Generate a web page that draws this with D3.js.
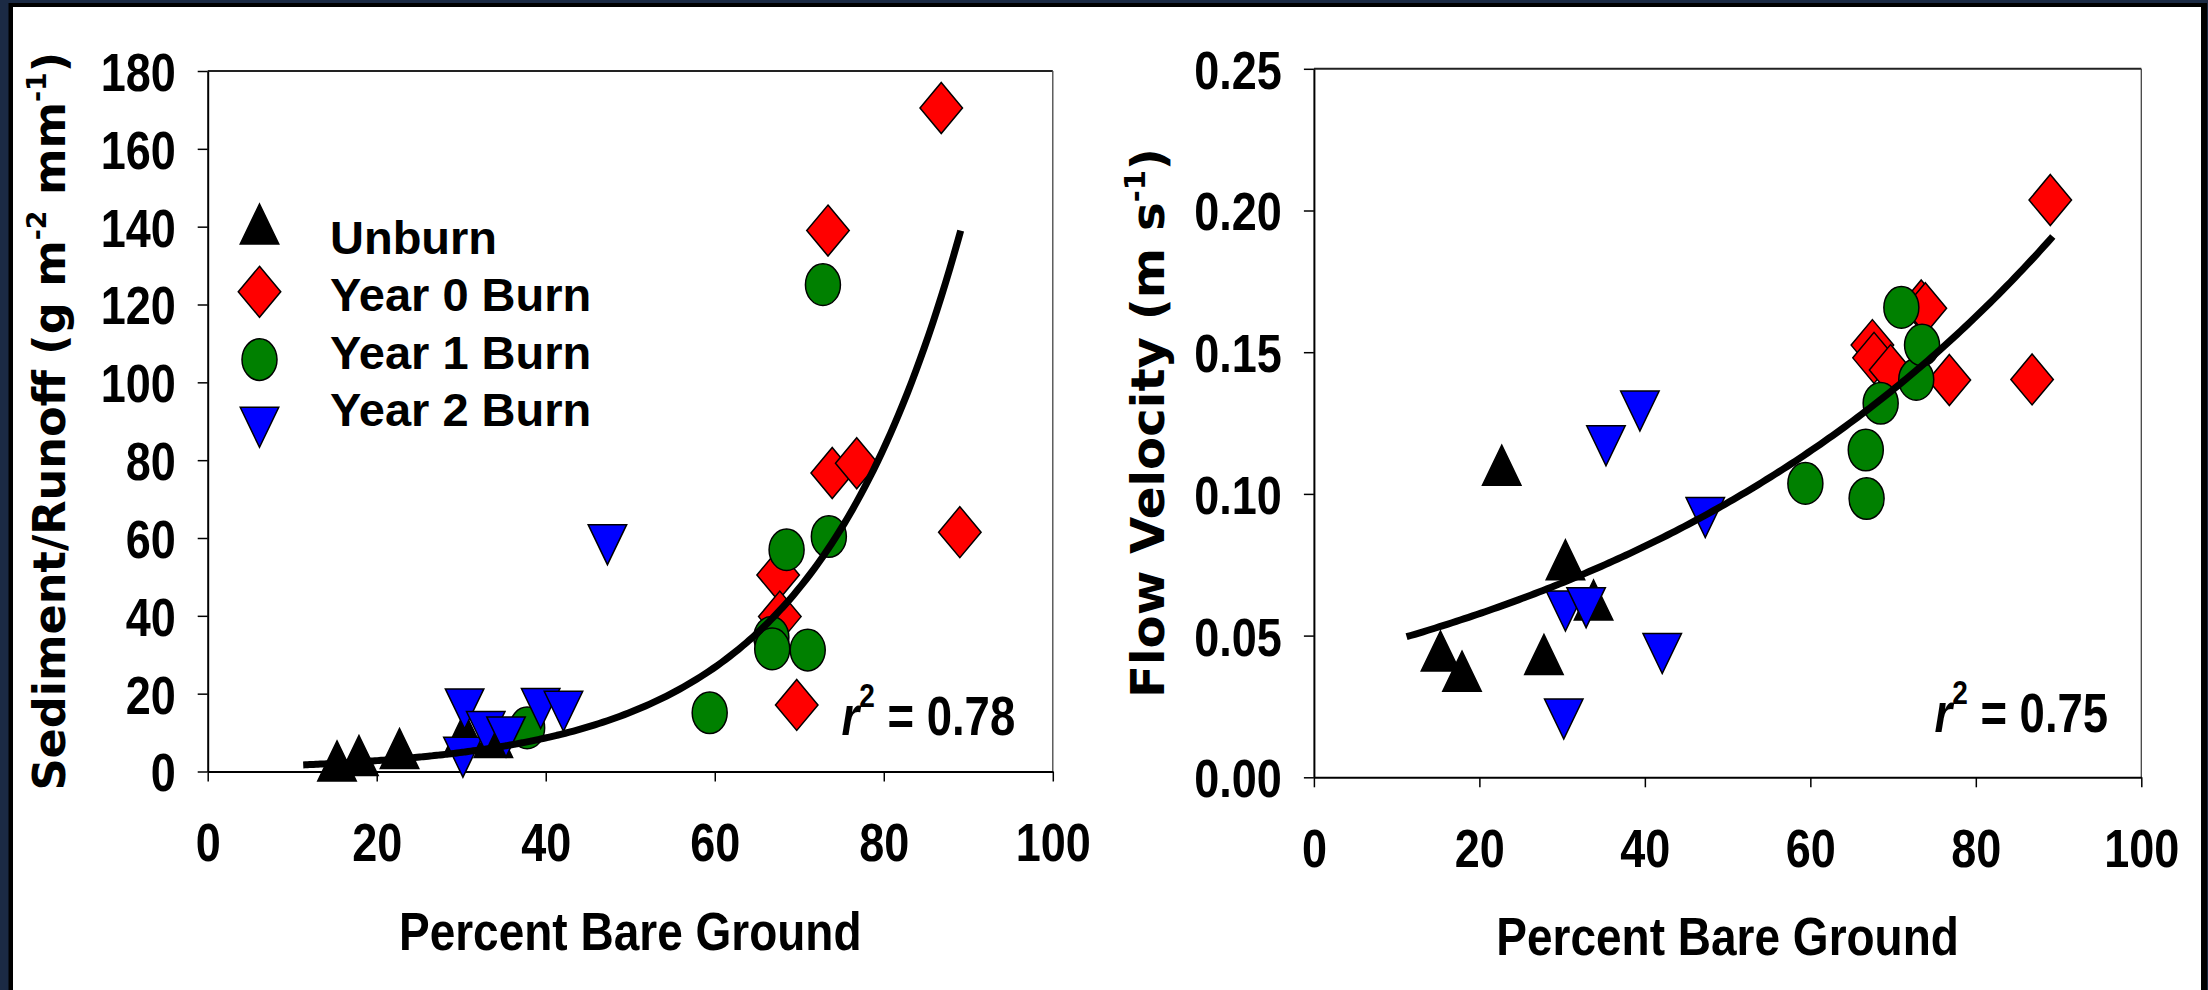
<!DOCTYPE html>
<html>
<head>
<meta charset="utf-8">
<script src="https://cdn.jsdelivr.net/npm/d3@7"></script>
<style>
body { margin: 0; background: #1b2a44; }
svg { display: block; }
</style>
</head>
<body>
<svg id="chart" width="2208" height="990"></svg>
<script>
// ---- data ----
var seriesNames = ["Unburn", "Year 0 Burn", "Year 1 Burn", "Year 2 Burn"];

// percent bare ground for each plot, by burn class
var unburnBare = [15.3, 17.9, 22.7, 27.8, 30.4, 33.8];
var year0Bare  = [67.5, 67.7, 69.7, 73.4, 73.9, 76.8, 86.8, 89.0];
var year1Bare  = [37.8, 59.4, 66.7, 66.8, 68.5, 71.0, 72.8, 73.5];
var year2Bare  = [30.2, 30.4, 32.9, 35.3, 39.4, 42.1, 47.3];

// sediment / runoff (g m-2 mm-1), null = not visible
var unburnSediment = [1.0, 2.4, 4.2, null, 8.5, 7.0];
var year0Sediment  = [50.5, 39.8, 17.1, 139, 76.7, 79.2, 170.5, 61.5];
var year1Sediment  = [11.2, 15.1, 34.5, 31.5, 57, 31.2, 125.1, 60.4];
var year2Sediment  = [5.4, 17.8, 12.0, 10.6, 17.9, 17.2, 60];

// flow velocity (m s-1), null = not visible
var unburnVelocity = [0.0422, 0.0351, 0.1078, 0.041, 0.0744, 0.0602];
var year0Velocity  = [0.1525, 0.148, 0.1437, 0.1665, 0.1655, 0.1402, 0.1404, 0.2037];
var year1Velocity  = [null, 0.1037, 0.1155, 0.0984, 0.132, 0.1658, 0.1404, 0.1525];
var year2Velocity  = [0.0229, 0.061, 0.0622, 0.1193, 0.1316, 0.046, 0.094];

// exponential fits y = a * exp(b * x)
var sedimentFit = {a: 0.897, b: 0.0566, from: 11.3, to: 89.1};
var velocityFit = {a: 0.04089, b: 0.01725, from: 11.2, to: 89.3};

var bareTicks = [0, 20, 40, 60, 80, 100];
var sedimentTicks = [0, 20, 40, 60, 80, 100, 120, 140, 160, 180];
var velocityTicks = [0, 0.05, 0.10, 0.15, 0.20, 0.25];

// ---- styles ----
var FONT = "'Liberation Sans', Arial, Helvetica, sans-serif";
var TITLE_FONT = "'DejaVu Sans', Verdana, sans-serif";
var seriesFill = ["#000000", "#ff0000", "#008000", "#0000ff"];
var seriesShape = ["up", "diamond", "circle", "down"];
var STRETCH = 1.2;   // the figure is a little taller than wide

var svg = d3.select("#chart");

// dark slide border
svg.append("rect").attr("width", 2208).attr("height", 990).attr("fill", "#1b2a44");
svg.append("rect").attr("x", 8.5).attr("y", 3).attr("width", 2198.5).attr("height", 990).attr("fill", "#000");
svg.append("rect").attr("x", 13).attr("y", 7).attr("width", 2188).attr("height", 990).attr("fill", "#fff");

function markerPath(shape, w, h) {
	if (shape == "up") return "M0," + (-2 * h / 3) + "L" + (w / 2) + "," + (h / 3) + "L" + (-w / 2) + "," + (h / 3) + "Z";
	if (shape == "down") return "M" + (-w / 2) + "," + (-h / 3) + "L" + (w / 2) + "," + (-h / 3) + "L0," + (2 * h / 3) + "Z";
	return "M0," + (-h / 2) + "L" + (w / 2) + ",0L0," + (h / 2) + "L" + (-w / 2) + ",0Z";
}

function addMarker(g, shape, fill, cx, cy) {
	if (shape == "circle") {
		return g.append("ellipse").attr("cx", cx).attr("cy", cy).attr("rx", 17.5).attr("ry", 20.8)
			.attr("fill", fill).attr("stroke", "#000").attr("stroke-width", 1.5);
	}
	var w = shape == "diamond" ? 42.5 : 38.5;
	var h = shape == "diamond" ? 51 : 40;
	return g.append("path").attr("d", markerPath(shape, w, h))
		.attr("transform", "translate(" + cx + "," + cy + ")")
		.attr("fill", fill).attr("stroke", "#000").attr("stroke-width", 1.5);
}

var panels = [
	{
		left: 207.7, right: 1052.8, top: 71, bottom: 771.5,
		yMax: 180, yTicks: sedimentTicks, fmt: d3.format("d"),
		xs: [unburnBare, year0Bare, year1Bare, year2Bare],
		ys: [unburnSediment, year0Sediment, year1Sediment, year2Sediment],
		fit: sedimentFit, r2: "0.78", r2At: [75, 9.4],
		title: ["Sediment/Runoff (g m", "-2", " mm", "-1", ")"], titleX: 65, titleSize: 45, titleLen: 739,
		legend: true
	},
	{
		left: 1313.9, right: 2141.3, top: 68.8, bottom: 777.3,
		yMax: 0.25, yTicks: velocityTicks, fmt: d3.format(".2f"),
		xs: [unburnBare, year0Bare, year1Bare, year2Bare],
		ys: [unburnVelocity, year0Velocity, year1Velocity, year2Velocity],
		fit: velocityFit, r2: "0.75", r2At: [75, 0.016],
		title: ["Flow Velocity (m s", "-1", ")"], titleX: 1164, titleSize: 46, titleLen: 550,
		legend: false
	}
];

panels.forEach(function(p) {
	var x = d3.scaleLinear().domain([0, 100]).range([p.left, p.right]);
	var y = d3.scaleLinear().domain([0, p.yMax]).range([p.bottom, p.top]);
	var g = svg.append("g");

	// frame: top and right edges
	g.append("line").attr("x1", p.left).attr("x2", p.right).attr("y1", p.top).attr("y2", p.top)
		.attr("stroke", "#222").attr("stroke-width", 2);
	g.append("line").attr("x1", p.right).attr("x2", p.right).attr("y1", p.top).attr("y2", p.bottom)
		.attr("stroke", "#444").attr("stroke-width", 1.3);

	// axes
	var yAxis = d3.axisLeft(y).tickValues(p.yTicks).tickSize(10).tickSizeOuter(0).tickFormat(p.fmt);
	var gy = g.append("g").attr("transform", "translate(" + p.left + ",0)").call(yAxis);
	var xAxis = d3.axisBottom(x).tickValues(bareTicks).tickSize(10).tickSizeOuter(0).tickFormat(d3.format("d"));
	var gx = g.append("g").attr("transform", "translate(0," + p.bottom + ")").call(xAxis);
	[gy, gx].forEach(function(a) {
		a.select(".domain").attr("stroke", "#000").attr("stroke-width", 2);
		a.selectAll(".tick line").attr("stroke", "#000").attr("stroke-width", 1.5);
		a.selectAll(".tick text").attr("font-family", FONT).attr("font-weight", "bold")
			.attr("font-size", 45).attr("fill", "#000").attr("transform", "scale(1," + STRETCH + ")");
	});
	gy.selectAll(".tick text").attr("x", -32).attr("dy", "0.36em");
	gx.selectAll(".tick text").attr("y", 90 / STRETCH).attr("dy", 0);

	// points, one series after another
	p.xs.forEach(function(xv, s) {
		var gs = g.append("g");
		xv.forEach(function(v, i) {
			var yv = p.ys[s][i];
			if (yv == null) return;
			addMarker(gs, seriesShape[s], seriesFill[s], x(v), y(yv));
		});
	});

	// fitted curve
	var fx = d3.range(p.fit.from, p.fit.to, 0.5).concat([p.fit.to]);
	var line = d3.line()
		.x(function(d) { return x(d); })
		.y(function(d) { return y(p.fit.a * Math.exp(p.fit.b * d)); })
		.curve(d3.curveMonotoneX);
	g.append("path").datum(fx).attr("d", line)
		.attr("fill", "none").attr("stroke", "#000").attr("stroke-width", 7);

	// r-squared label
	var rt = g.append("text")
		.attr("transform", "translate(" + x(p.r2At[0]) + "," + y(p.r2At[1]) + ") scale(1," + STRETCH + ")")
		.attr("font-family", FONT).attr("font-weight", "bold").attr("font-size", 45.5).attr("fill", "#000");
	rt.append("tspan").attr("font-style", "italic").text("r");
	rt.append("tspan").attr("font-size", 28).attr("dy", -23.5).text("2");
	rt.append("tspan").attr("dy", 23.5).text(" = " + p.r2);

	// x-axis title
	g.append("text")
		.attr("transform", "translate(" + ((p.left + p.right) / 2) + "," + (p.bottom + 178) + ") scale(1,1.15)")
		.attr("text-anchor", "middle")
		.attr("font-family", FONT).attr("font-weight", "bold").attr("font-size", 46).attr("fill", "#000")
		.text("Percent Bare Ground");

	// y-axis title, with superscripts
	var cy = (p.top + p.bottom) / 2;
	var yt = g.append("text")
		.attr("text-anchor", "middle")
		.attr("font-family", TITLE_FONT).attr("font-weight", "bold").attr("font-size", p.titleSize).attr("fill", "#000");
	p.title.forEach(function(part, i) {
		var sup = i % 2 == 1;
		var ts = yt.append("tspan").text(part);
		if (sup) ts.attr("font-size", p.titleSize * 0.6).attr("dy", -p.titleSize * 0.42);
		else if (i > 0) ts.attr("dy", p.titleSize * 0.42);
	});
	var len = yt.node().getComputedTextLength();
	yt.attr("transform", "translate(" + p.titleX + "," + cy + ") rotate(-90) scale(" + (p.titleLen / len) + ",1)");

	// legend
	if (p.legend) {
		seriesNames.forEach(function(name, s) {
			addMarker(g, seriesShape[s], seriesFill[s], 259.5, 224 + s * 67.8 + (seriesShape[s] == "up" ? 6.7 : seriesShape[s] == "down" ? -6.7 : 0));
			g.append("text").attr("x", 330).attr("y", 253.5 + s * 57.5)
				.attr("font-family", FONT).attr("font-weight", "bold").attr("font-size", 47).attr("fill", "#000")
				.text(name);
		});
	}
});
</script>
</body>
</html>
